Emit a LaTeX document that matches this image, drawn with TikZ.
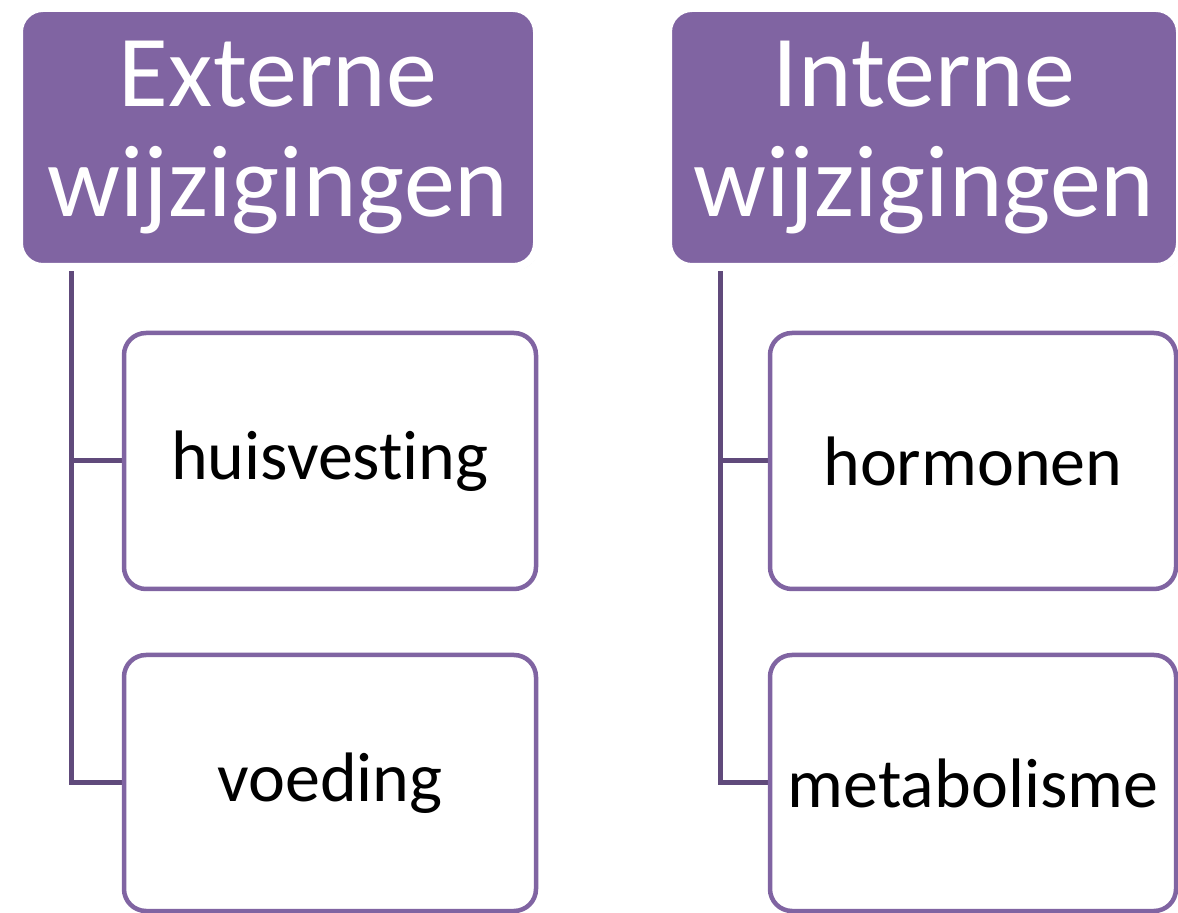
\documentclass[tikz,border=0pt]{standalone}
\usepackage{fontspec}
\setmainfont{Carlito}[Ligatures=NoCommon]
\usetikzlibrary{positioning,shadows,backgrounds}
\definecolor{lavender}{RGB}{128,100,162}
\definecolor{darklavender}{RGB}{96,74,123}
\tikzset{
  header/.style={rectangle, rounded corners=12pt, draw=white, line width=4pt, fill=lavender,
                 minimum width=259pt, minimum height=129.5pt, outer sep=0pt, inner sep=0pt,
                 align=center, text=white, font=\fontsize{51}{55}\selectfont,
                 drop shadow={shadow xshift=1pt, shadow yshift=-1.5pt, opacity=0.35}},
  item/.style={rectangle, rounded corners=11pt, draw=lavender, line width=2.25pt, fill=white,
               minimum width=206pt, minimum height=128pt, outer sep=0pt, inner sep=2pt,
               font=\fontsize{35}{42}\selectfont},
  link/.style={darklavender, line width=2.5pt},
}

\begin{document}
\begin{tikzpicture}[x=0.5pt, y=-0.5pt]
\useasboundingbox (0,0) rectangle (1178,913);
\node[header] (ext) at (278,137.5) {Externe\\wijzigingen};
\node[header, minimum width=256pt, right=65.5pt of ext] (int) {Interne\\wijzigingen};

\node[item, below right=33pt and 52.5pt of ext.south west] (huis) {huisvesting};
\node[item, below=33pt of huis] (voed) {voeding};
\node[item, minimum width=203pt, below right=33pt and 51pt of int.south west] (horm) {hormonen};
\node[item, minimum width=203pt, below=33pt of horm] (meta) {metabolisme};

\begin{scope}[on background layer]
\fill[white] (0,0) rectangle (1178,913);
\foreach \h/\c in {ext/huis, ext/voed, int/horm, int/meta}
  \draw[link] ([xshift=26pt]\h.south west) |- (\c.west);
\end{scope}
\end{tikzpicture}
\end{document}
